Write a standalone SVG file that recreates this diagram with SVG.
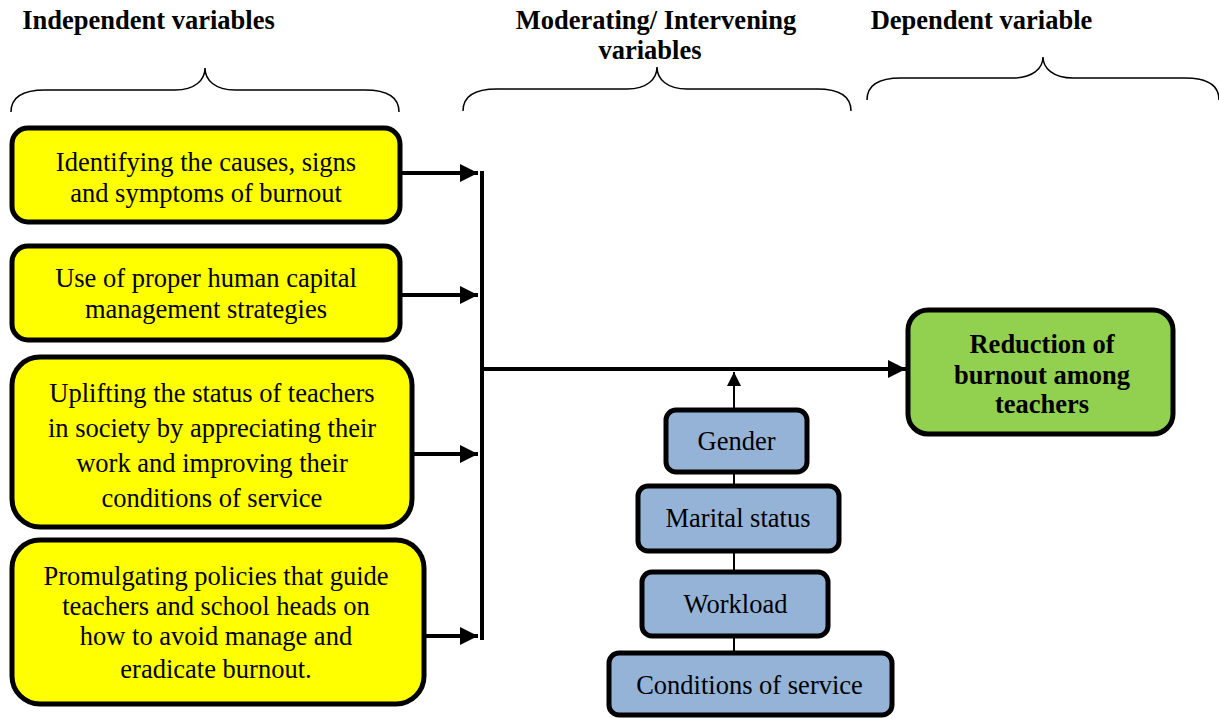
<svg xmlns="http://www.w3.org/2000/svg" width="1219" height="718" viewBox="0 0 1219 718">
<style>
text{font-family:"Liberation Serif","Times New Roman",serif;font-size:26.5px;fill:#000;text-anchor:middle}
.h{font-weight:bold}
.brace{fill:none;stroke:#000;stroke-width:1.5}
.y{fill:#ffff00;stroke:#000;stroke-width:5}
.b{fill:#95b3d7;stroke:#000;stroke-width:5}
.g{fill:#92d050;stroke:#000;stroke-width:5}
.thick{fill:none;stroke:#000;stroke-width:4}
.thin{fill:none;stroke:#000;stroke-width:2}
</style>
<defs>
<marker id="ah" viewBox="0 0 10 10" refX="10" refY="5" markerWidth="4.5" markerHeight="4.5" markerUnits="strokeWidth" orient="auto"><path d="M0,0L10,5L0,10z" fill="#000"/></marker>
<marker id="ahs" viewBox="0 0 10 10" refX="10" refY="5" markerWidth="7" markerHeight="7" markerUnits="strokeWidth" orient="auto"><path d="M0,0L10,5L0,10z" fill="#000"/></marker>
</defs>
<rect width="1219" height="718" fill="#fff"/>
<g id="headers">
<text class="h" x="148.5" y="28.5">Independent variables</text>
<text class="h" x="656" y="28.5">Moderating/ Intervening</text>
<text class="h" x="650" y="59">variables</text>
<text class="h" x="981.5" y="28.5">Dependent variable</text>
</g>
<g id="braces">
<path class="brace" d="M11,112 C11,98 22,90 45,90 L175,90 C195,90 205,80 205,68 C205,80 215,90 235,90 L365,90 C388,90 399,98 399,112"/>
<path class="brace" d="M463,111 C463,97 474,89 497,89 L627,89 C647,89 657,79 657,67 C657,79 667,89 687,89 L817,89 C840,89 851,97 851,111"/>
<path class="brace" d="M867,100 C867,86 878,78 901,78 L1013,78 C1033,78 1043,68 1043,57 C1043,68 1053,78 1073,78 L1185,78 C1208,78 1219,86 1219,100"/>
</g>
<g id="connectors">
<line class="thick" x1="400" y1="173" x2="478" y2="173" marker-end="url(#ah)"/>
<line class="thick" x1="400" y1="295" x2="478" y2="295" marker-end="url(#ah)"/>
<line class="thick" x1="412" y1="454" x2="478" y2="454" marker-end="url(#ah)"/>
<line class="thick" x1="424" y1="636" x2="478" y2="636" marker-end="url(#ah)"/>
<line class="thick" x1="482" y1="171" x2="482" y2="640"/>
<line class="thick" x1="480" y1="369" x2="906" y2="369" marker-end="url(#ah)"/>
<line class="thin" x1="734" y1="410" x2="734" y2="372" marker-end="url(#ahs)"/>
<line class="thin" x1="734" y1="473" x2="734" y2="485"/>
<line class="thin" x1="734" y1="552" x2="734" y2="571"/>
<line class="thin" x1="734" y1="637" x2="734" y2="652"/>
</g>
<g id="iv1">
<rect class="y" x="12" y="128" width="388" height="94" rx="16"/>
<text x="206" y="170.5">Identifying the causes, signs</text>
<text x="206" y="201.5">and symptoms of burnout</text>
</g>
<g id="iv2">
<rect class="y" x="12" y="246" width="388" height="94" rx="16"/>
<text x="206" y="286.5">Use of proper human capital</text>
<text x="206" y="318">management strategies</text>
</g>
<g id="iv3">
<rect class="y" x="12" y="357" width="400" height="170" rx="28"/>
<text x="212" y="401.5">Uplifting the status of teachers</text>
<text x="212" y="436.5">in society by appreciating their</text>
<text x="212" y="471.5">work and improving their</text>
<text x="212" y="506.5">conditions of service</text>
</g>
<g id="iv4">
<rect class="y" x="12" y="540" width="412" height="164" rx="28"/>
<text x="216" y="585">Promulgating policies that guide</text>
<text x="216" y="615">teachers and school heads on</text>
<text x="216" y="645">how to avoid manage and</text>
<text x="216" y="677.5">eradicate burnout.</text>
</g>
<g id="dv">
<rect class="g" x="908" y="310" width="265" height="124" rx="20"/>
<text class="h" x="1042" y="352.5">Reduction of</text>
<text class="h" x="1042" y="383.5">burnout among</text>
<text class="h" x="1042" y="412.5">teachers</text>
</g>
<g id="m1">
<rect class="b" x="666" y="410" width="141" height="62" rx="10"/>
<text x="736.5" y="450">Gender</text>
</g>
<g id="m2">
<rect class="b" x="638" y="486" width="201" height="65" rx="10"/>
<text x="738" y="527">Marital status</text>
</g>
<g id="m3">
<rect class="b" x="642" y="572" width="186" height="64" rx="10"/>
<text x="735.5" y="613">Workload</text>
</g>
<g id="m4">
<rect class="b" x="609" y="653" width="283" height="62" rx="10"/>
<text x="749.5" y="694">Conditions of service</text>
</g>
</svg>
